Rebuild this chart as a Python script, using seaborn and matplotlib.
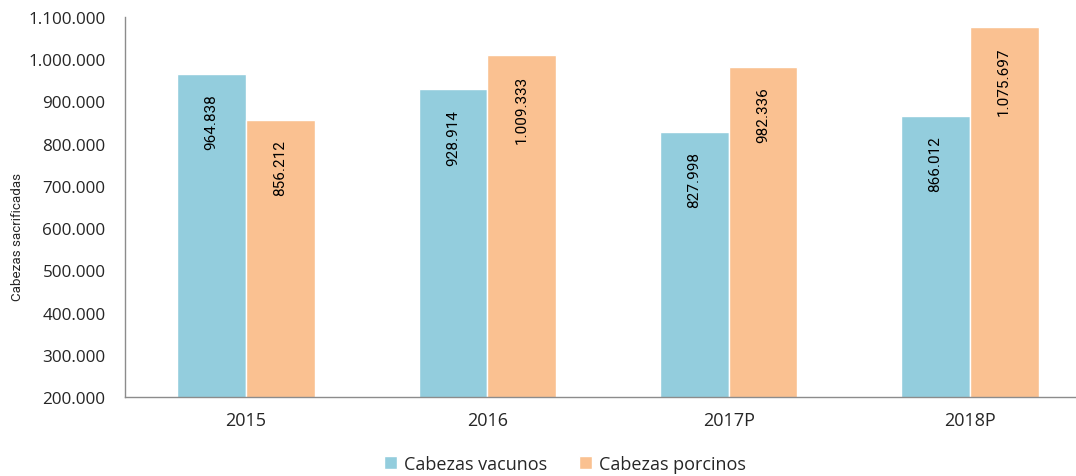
import matplotlib
matplotlib.use("Agg")
import matplotlib.pyplot as plt
import seaborn as sns
import pandas as pd

# data
years = ["2015", "2016", "2017P", "2018P"]
vacunos = [964838, 928914, 827998, 866012]
porcinos = [856212, 1009333, 982336, 1075697]
series_names = ["Cabezas vacunos", "Cabezas porcinos"]
colors = ["#93CDDD", "#FAC191"]

df = pd.DataFrame({
    "year": years * 2,
    "value": vacunos + porcinos,
    "serie": [series_names[0]] * 4 + [series_names[1]] * 4,
})

def fmt(v):
    return f"{v:,.0f}".replace(",", ".")

sns.set_style("white")
plt.rcParams["font.family"] = ["Open Sans", "DejaVu Sans"]
narrow = ["Liberation Sans Narrow", "Roboto", "DejaVu Sans"]

fig = plt.figure(figsize=(10.76, 4.77), dpi=100)
ax = fig.add_axes([125 / 1076, 1 - 398 / 477, 1 - 125 / 1076, 380 / 477])

sns.barplot(data=df, x="year", y="value", hue="serie", palette=colors,
            width=0.57, gap=0, saturation=1, ax=ax, legend=True)

for cont in ax.containers:
    for bar in cont:
        h = bar.get_height()
        ax.annotate(fmt(h), (bar.get_x() + bar.get_width() / 2, h),
                    xytext=(0, -14), textcoords="offset points",
                    rotation=90, ha="center", va="top",
                    fontsize=11, family=narrow, color="black")

ax.set_ylim(200000, 1100000)
ax.set_yticks(range(200000, 1100001, 100000))
ax.set_yticklabels([fmt(v) for v in range(200000, 1100001, 100000)], fontsize=12.3)
ax.set_xlim(-0.502, 3.44)
ax.tick_params(axis="x", labelsize=13, pad=10, length=0)
ax.tick_params(axis="y", length=0, pad=14)
ax.set_xlabel("")
ax.set_ylabel("")
fig.text(18 / 1076, 1 - 237 / 477, "Cabezas sacrificadas", rotation=90,
         ha="center", va="center", fontsize=9.6, family=narrow)

for s in ["top", "right"]:
    ax.spines[s].set_visible(False)
for s in ["left", "bottom"]:
    ax.spines[s].set_color("#8c8c8c")
    ax.spines[s].set_linewidth(1)

leg = ax.legend(loc="center", bbox_to_anchor=(565 / 1076, 12 / 477),
                bbox_transform=fig.transFigure, ncol=2, frameon=False,
                fontsize=13, handlelength=0.7, handleheight=0.7,
                handletextpad=0.4, columnspacing=1.8)

fig.savefig("out.png", dpi=100)
